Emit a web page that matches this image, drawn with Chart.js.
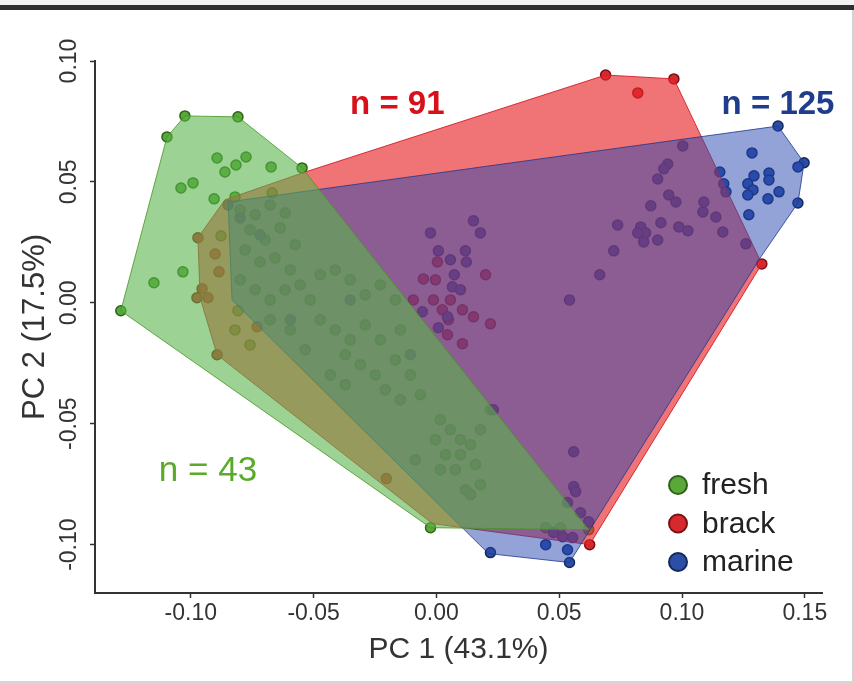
<!DOCTYPE html>
<html>
<head>
<meta charset="utf-8">
<script src="https://cdn.jsdelivr.net/npm/chart.js@4.4.1/dist/chart.umd.min.js"></script>
<style>
  html, body { margin: 0; padding: 0; background: #fff; }
  #wrap { position: relative; width: 854px; height: 684px; overflow: hidden; background: #fff; }
  #wrap canvas { position: absolute; left: 0; top: 0; }
  .edge { position: absolute; }
  .edge.top    { left: 0; top: 0; width: 854px; height: 5px; background: #f2f2f2; }
  .edge.bar    { left: 0; top: 5px; width: 854px; height: 5px; background: #2f2f2f; }
  .edge.right  { right: 0; top: 10px; width: 2px; height: 674px; background: #d2d2d2; }
  .edge.bottom { left: 0; bottom: 0; width: 854px; height: 3px; background: #d6d6d6; }
</style>
</head>
<body>
<div id="wrap">
  <canvas id="pca" width="854" height="684"></canvas>
  <div class="edge top"></div>
  <div class="edge bar"></div>
  <div class="edge right"></div>
  <div class="edge bottom"></div>
</div>
<script>
// --- data (PC1, PC2) ---
const groups = ['fresh', 'brack', 'marine'];
const groupCounts = ['n = 43', 'n = 91', 'n = 125'];
const xTicks = [-0.10, -0.05, 0.00, 0.05, 0.10, 0.15];
const yTicks = [-0.10, -0.05, 0.00, 0.05, 0.10];

const freshPts = [
  [-0.1024, 0.0773], [-0.0808, 0.0769], [-0.1097, 0.0686], [-0.0893, 0.0599], [-0.0861, 0.0541],
  [-0.0816, 0.0570], [-0.0775, 0.0603], [-0.0673, 0.0562], [-0.0547, 0.0558], [-0.1040, 0.0475],
  [-0.0991, 0.0496], [-0.0905, 0.0430], [-0.0820, 0.0438], [-0.0669, 0.0455], [-0.0877, 0.0277],
  [-0.1032, 0.0128], [-0.1150, 0.0083], [-0.1285, -0.0033], [-0.0808, -0.0033],
  [-0.0799, 0.0384], [-0.0738, 0.0364], [-0.0677, 0.0405], [-0.0616, 0.0372], [-0.0759, 0.0302],
  [-0.0697, 0.0260], [-0.0636, 0.0310], [-0.0575, 0.0240], [-0.0779, 0.0219], [-0.0718, 0.0169],
  [-0.0657, 0.0186], [-0.0595, 0.0136], [-0.0799, 0.0095], [-0.0738, 0.0054], [-0.0677, 0.0012],
  [-0.0616, 0.0054], [-0.0555, 0.0074], [-0.0514, 0.0012], [-0.0473, 0.0116], [-0.0412, 0.0136],
  [-0.0351, 0.0095], [-0.0290, 0.0033], [-0.0228, 0.0074], [-0.0167, 0.0012], [-0.0473, -0.0070],
  [-0.0412, -0.0112], [-0.0351, -0.0153], [-0.0290, -0.0091], [-0.0228, -0.0153], [-0.0147, -0.0112],
  [-0.0371, -0.0215], [-0.0310, -0.0256], [-0.0249, -0.0298], [-0.0167, -0.0236], [-0.0106, -0.0298],
  [-0.0208, -0.0360], [-0.0147, -0.0401], [-0.0065, -0.0380], [0.0016, -0.0483], [0.0057, -0.0525],
  [0.0098, -0.0566], [-0.0004, -0.0566], [0.0037, -0.0628], [0.0098, -0.0628], [0.0139, -0.0587],
  [0.0179, -0.0525], [0.0220, -0.0442], [0.0159, -0.0669], [0.0077, -0.0690], [-0.0086, -0.0649],
  [0.0118, -0.0773], [0.0179, -0.0752], [0.0139, -0.0793], [-0.0024, -0.0930], [0.0445, -0.0930],
  [0.0506, -0.0930], [0.0620, -0.0938], [-0.0820, -0.0112], [-0.0759, -0.0174], [-0.0677, -0.0070],
  [-0.0595, -0.0112], [-0.0534, -0.0194], [-0.0432, -0.0298], [-0.0371, -0.0339], [0.0016, -0.0690]
];

const brackPts = [
  [0.0689, 0.0942], [0.0967, 0.0926], [0.0820, 0.0868], [0.1325, 0.0161], [0.0624, -0.1000],
  [-0.0053, 0.0099], [-0.0004, 0.0095], [-0.0094, 0.0012], [-0.0012, 0.0012], [0.0057, 0.0012],
  [0.0106, -0.0029], [0.0151, -0.0058], [0.0200, 0.0116], [0.0220, -0.0087], [0.0106, -0.0169],
  [0.0045, -0.0132], [0.0004, 0.0169], [0.0049, -0.0070], [0.0024, -0.0029],
  [-0.0971, 0.0269], [-0.0901, 0.0202], [-0.0885, 0.0128], [-0.0954, 0.0058], [-0.0975, 0.0021],
  [-0.0930, 0.0021], [-0.0893, -0.0215], [-0.0204, -0.0727], [-0.0730, -0.0099]
];

const marinePts = [
  [0.1391, 0.0731], [0.1285, 0.0620], [0.1497, 0.0579], [0.1472, 0.0562], [0.1354, 0.0537],
  [0.1293, 0.0525], [0.1268, 0.0492], [0.1354, 0.0508], [0.1289, 0.0467], [0.1268, 0.0446],
  [0.1395, 0.0459], [0.1350, 0.0430], [0.1472, 0.0413], [0.1272, 0.0364], [0.1154, 0.0541],
  [0.1170, 0.0492], [0.1179, 0.0459], [0.1089, 0.0417], [0.1085, 0.0376], [0.1138, 0.0355],
  [0.1166, 0.0293], [0.1260, 0.0244], [0.1003, 0.0649], [0.0942, 0.0574], [0.0926, 0.0554],
  [0.0901, 0.0512], [0.0946, 0.0446], [0.0975, 0.0417], [0.0873, 0.0401], [0.0914, 0.0331],
  [0.0987, 0.0314], [0.1024, 0.0298], [0.0832, 0.0314], [0.0852, 0.0289], [0.0820, 0.0289],
  [0.0844, 0.0252], [0.0901, 0.0260], [0.0738, 0.0322], [0.0722, 0.0215], [0.0665, 0.0116],
  [0.0542, 0.0012],
  [0.0151, 0.0339], [0.0179, 0.0289], [-0.0024, 0.0289], [0.0008, 0.0215], [0.0118, 0.0215],
  [0.0122, 0.0169], [0.0057, 0.0178], [0.0073, 0.0116], [0.0065, 0.0066], [0.0098, 0.0054],
  [-0.0057, -0.0037], [0.0008, -0.0103], [0.0045, -0.0058], [0.0232, -0.0442],
  [0.0559, -0.0616], [0.0559, -0.0760], [0.0567, -0.0781], [0.0534, -0.0826], [0.0587, -0.0868],
  [0.0620, -0.0905], [0.0477, -0.0950], [0.0514, -0.0967], [0.0555, -0.0971], [0.0220, -0.1033],
  [0.0534, -0.1021], [0.0542, -0.1074], [0.0445, -0.1000],
  [-0.0848, 0.0405], [-0.0799, 0.0351], [-0.0718, 0.0281], [-0.0595, -0.0070], [-0.0351, 0.0012],
  [-0.0106, -0.0215]
];

// convex hull outlines of each group
const freshHull = [
  [-0.1285, -0.0033], [-0.1097, 0.0686], [-0.1024, 0.0773], [-0.0808, 0.0769],
  [-0.0547, 0.0558], [0.0620, -0.0938], [-0.0024, -0.0930]
];
const brackHull = [
  [0.0689, 0.0942], [0.0967, 0.0926], [0.1325, 0.0161], [0.0624, -0.1000], [-0.0016, -0.0913],
  [-0.0893, -0.0215], [-0.0962, 0.0021], [-0.0971, 0.0269], [-0.0861, 0.0426], [-0.0534, 0.0541]
];
const marineHull = [
  [-0.0848, 0.0417], [0.1391, 0.0731], [0.1497, 0.0579], [0.1472, 0.0413], [0.1321, 0.0190],
  [0.0542, -0.1074], [0.0212, -0.1037], [-0.0832, 0.0012]
];

// --- styling ---
const FONT = "'Liberation Sans', Arial, Helvetica, sans-serif";
const INK = '#333333';
const pointFill   = ['#5aa83a', '#d42a2e', '#2a4fa4'];
const pointEdge   = ['#2c6418', '#7c1014', '#14285e'];
const hullFill    = ['rgba(90,180,75,0.6)', 'rgba(232,40,45,0.65)', 'rgba(40,72,178,0.5)'];
const hullEdge    = ['rgba(70,150,30,0.8)', 'rgba(210,30,40,0.9)', 'rgba(30,55,140,0.8)'];
const countColor  = ['#5aab2a', '#d8101c', '#1f3d8c'];
const countFont   = ['normal 35px', 'bold 33px', 'bold 33px'];
const countAt     = [[-0.0930, -0.0698], [-0.0159, 0.0818], [0.1391, 0.0818]];

Chart.defaults.font.family = FONT;

const toXY = pts => pts.map(([x, y]) => ({ x, y }));
const closed = pts => toXY(pts.concat([pts[0]]));

const hullSets = [freshHull, brackHull, marineHull].map((h, i) => ({
  type: 'line',
  label: groups[i] + ' hull',
  data: closed(h),
  fill: 'shape',
  backgroundColor: hullFill[i],
  borderColor: hullEdge[i],
  borderWidth: 1,
  pointRadius: 0,
  tension: 0,
  order: [0, 2, 1][i]
}));

const pointSets = [freshPts, brackPts, marinePts].map((p, i) => ({
  type: 'scatter',
  label: groups[i],
  data: toXY(p),
  backgroundColor: pointFill[i],
  borderColor: pointEdge[i],
  borderWidth: 1.5,
  pointRadius: 5,
  order: [5, 4, 3][i]
}));

const overlay = {
  id: 'overlay',
  afterDatasetsDraw(chart) {
    const { ctx, chartArea: a, scales: { x, y } } = chart;
    ctx.save();
    ctx.textAlign = 'center';
    ctx.textBaseline = 'middle';
    groupCounts.forEach((t, i) => {
      ctx.font = countFont[i] + ' ' + FONT;
      ctx.fillStyle = countColor[i];
      ctx.fillText(t, x.getPixelForValue(countAt[i][0]), y.getPixelForValue(countAt[i][1]));
    });
    // legend, bottom right
    const lx = a.left + 583, ly = a.bottom - 108;
    groups.forEach((g, i) => {
      const cy = ly + i * 38.5;
      ctx.beginPath();
      ctx.arc(lx, cy, 9, 0, Math.PI * 2);
      ctx.fillStyle = pointFill[i];
      ctx.fill();
      ctx.lineWidth = 2;
      ctx.strokeStyle = pointEdge[i];
      ctx.stroke();
      ctx.font = '30px ' + FONT;
      ctx.fillStyle = '#222';
      ctx.textAlign = 'left';
      ctx.fillText(g, lx + 24, cy + 1);
    });
    ctx.restore();
  }
};

new Chart(document.getElementById('pca'), {
  type: 'scatter',
  data: { datasets: hullSets.concat(pointSets) },
  options: {
    responsive: false,
    animation: false,
    events: [],
    layout: { padding: { top: 61, right: 32, bottom: 0, left: 0 } },
    plugins: { legend: { display: false }, tooltip: { enabled: false } },
    scales: {
      x: {
        type: 'linear', min: -0.139, max: 0.157,
        afterBuildTicks: s => { s.ticks = xTicks.map(v => ({ value: v })); },
        afterFit: s => { s.height = 91; },
        ticks: { callback: v => v.toFixed(2), color: INK, font: { size: 23 }, padding: 2, maxRotation: 0, autoSkip: false },
        grid: { drawOnChartArea: false, drawTicks: true, tickLength: 5, tickColor: INK, tickWidth: 1.5 },
        border: { display: true, color: INK, width: 2 },
        title: { display: true, text: 'PC 1 (43.1%)', color: INK, font: { size: 30 }, padding: { top: 0, bottom: 16 } }
      },
      y: {
        type: 'linear', min: -0.12, max: 0.10,
        afterBuildTicks: s => { s.ticks = yTicks.map(v => ({ value: v })); },
        afterFit: s => { s.width = 95; },
        ticks: { callback: v => v.toFixed(2), color: INK, font: { size: 23 }, minRotation: 90, maxRotation: 90, crossAlign: 'center', padding: -6, autoSkip: false },
        grid: { drawOnChartArea: false, drawTicks: true, tickLength: 5, tickColor: INK, tickWidth: 1.5 },
        border: { display: true, color: INK, width: 2 },
        title: { display: true, text: 'PC 2 (17.5%)', color: INK, font: { size: 31 }, padding: { top: 17, bottom: 0 } }
      }
    }
  },
  plugins: [overlay]
});
</script>
</body>
</html>
